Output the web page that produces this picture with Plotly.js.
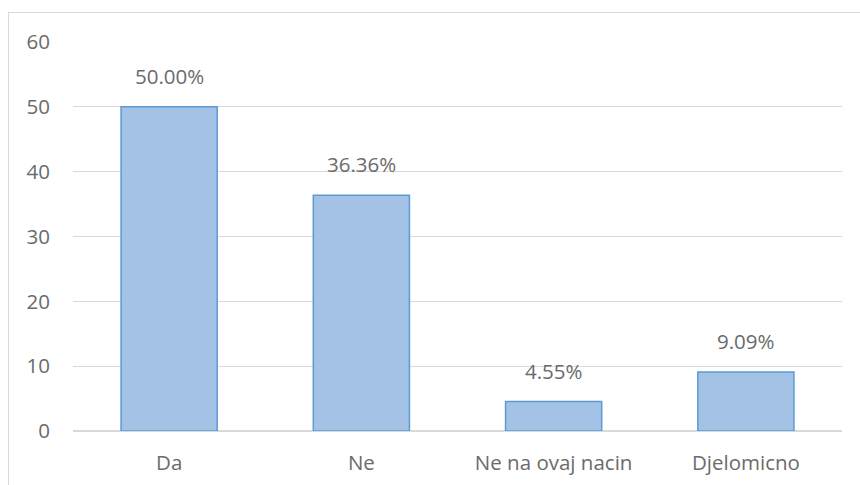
<!DOCTYPE html>
<html>
<head>
<meta charset="utf-8">
<script src="https://cdn.plot.ly/plotly-3.0.1.min.js"></script>
<style>
  html, body { margin: 0; padding: 0; background: #fff; }
  #wrap { position: relative; width: 860px; height: 485px; }
  #chart { position: absolute; left: 0; top: 0; width: 860px; height: 485px; }
  #frame { position: absolute; left: 8px; top: 12px; width: 860px; height: 485px;
           border-left: 1px solid #D9D9D9; border-top: 1px solid #D9D9D9; pointer-events: none; }
</style>
</head>
<body>
<div id="wrap">
  <div id="chart"></div>
  <div id="frame"></div>
</div>
<script>
const categories = ["Da", "Ne", "Ne na ovaj nacin", "Djelomicno"];
const values = [50.00, 36.36, 4.55, 9.09];
const labels = ["50.00%", "36.36%", "4.55%", "9.09%"];
const yTicks = [0, 10, 20, 30, 40, 50, 60];

const font = "'Open Sans', 'Noto Sans', sans-serif";
const textColor = "#6B6B6B";

const trace = {
  type: "bar",
  x: categories,
  y: values,
  marker: { color: "#A4C2E6", line: { color: "#5B9BD5", width: 1.5 } },
  hoverinfo: "none"
};

const annotations = categories.map((c, i) => ({
  x: c, y: values[i], text: labels[i], showarrow: false,
  xref: "x", yref: "y", yanchor: "bottom", yshift: 15,
  font: { family: font, size: 20.5, color: textColor }
}));

const layout = {
  width: 860, height: 485,
  margin: { l: 73, r: 18, t: 42, b: 54 },
  paper_bgcolor: "#fff", plot_bgcolor: "#fff",
  bargap: 0.5,
  showlegend: false,
  xaxis: {
    type: "category",
    showgrid: false, zeroline: false, showline: false, ticks: "",
    tickfont: { family: font, size: 20.5, color: textColor },
    ticklabelstandoff: 17
  },
  yaxis: {
    range: [0, 60], tickvals: yTicks, ticktext: yTicks.map(String),
    showgrid: true, gridcolor: "#D9D9D9", gridwidth: 1.3,
    zeroline: true, zerolinecolor: "#D9D9D9", zerolinewidth: 1.3,
    showline: false, ticks: "",
    tickfont: { family: font, size: 20.5, color: textColor },
    ticklabelstandoff: 22
  },
  annotations: annotations
};

Plotly.newPlot("chart", [trace], layout, { staticPlot: true, displayModeBar: false });
</script>
</body>
</html>
